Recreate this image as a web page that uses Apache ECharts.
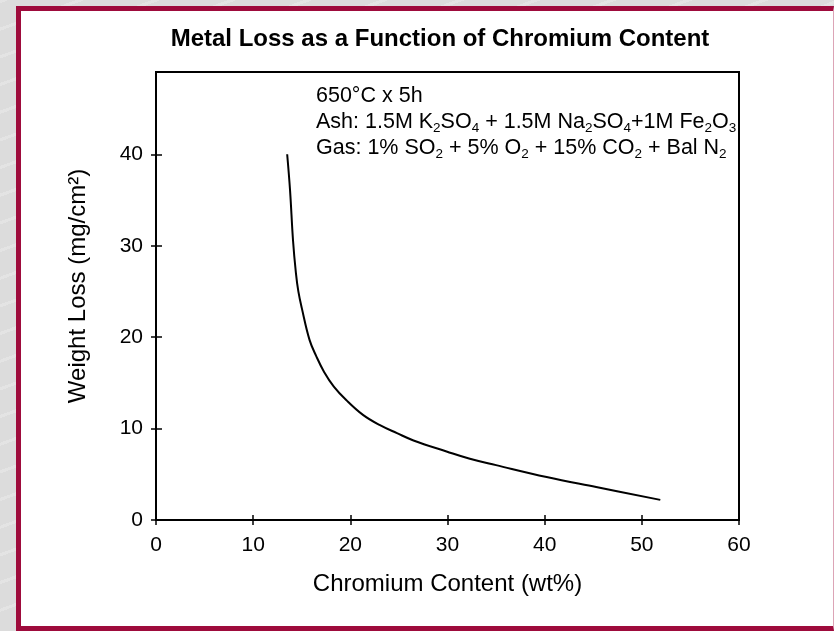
<!DOCTYPE html>
<html>
<head>
<meta charset="utf-8">
<script src="https://cdn.jsdelivr.net/npm/echarts@6/dist/echarts.min.js"></script>
<style>
  html, body { margin: 0; padding: 0; }
  body {
    width: 834px;
    height: 631px;
    overflow: hidden;
    position: relative;
    background:
      repeating-linear-gradient(160deg, rgba(255,255,255,0.22) 0 3px, rgba(255,255,255,0) 3px 26px),
      #dcdcdc;
  }
  #frame {
    position: absolute;
    left: 16px;
    top: 6px;
    width: 818px;
    height: 625px;
    box-sizing: border-box;
    background: #fff;
    border-left: 5px solid #9e0b3c;
    border-top: 5px solid #9e0b3c;
    border-bottom: 5px solid #9e0b3c;
    border-right: 1px solid #dca4b6;
  }
  #chart {
    position: absolute;
    left: 0;
    top: 0;
    width: 834px;
    height: 631px;
  }
</style>
</head>
<body>
<div id="frame"></div>
<div id="chart"></div>
<script>
  // chromium content (wt%) and weight loss (mg/cm2)
  const chromium = [13.5, 13.8, 14.1, 14.4, 14.65, 15.0, 15.8, 16.5, 17.3, 18.3, 19.6, 21.3, 23.0, 24.8, 26.5, 29.9, 32.3, 35.0, 40.2, 45.3, 51.9]
  const weightLoss = [40, 36, 30.6, 27.0, 25.0, 23.2, 19.7, 17.9, 16.2, 14.6, 13.1, 11.5, 10.4, 9.5, 8.7, 7.5, 6.7, 6.0, 4.7, 3.6, 2.2]
  const xTicks = [0, 10, 20, 30, 40, 50, 60]
  const yTicks = [0, 10, 20, 30, 40]

  const font = "'Liberation Sans', Arial, sans-serif"

  const myE = echarts.init(document.getElementById("chart"))

  const axisBase = {
    type: "value",
    splitLine: { show: false },
  }

  let option = {
    animation: false,
    title: {
      text: "Metal Loss as a Function of Chromium Content",
      left: 435,
      top: 22,
      textAlign: "center",
      textStyle: {
        fontFamily: font,
        fontSize: 24,
        fontWeight: "bold",
        color: "#000",
      },
    },
    grid: {
      left: 156,
      right: 95,
      top: 72,
      bottom: 111,
      show: true,
      borderColor: "#000",
      borderWidth: 2,
    },
    xAxis: [
      {
        ...axisBase,
        min: 0,
        max: 60,
        interval: 10,
        position: "bottom",
        name: "Chromium Content (wt%)",
        nameLocation: "middle",
        nameGap: 52,
        nameTextStyle: { fontFamily: font, fontSize: 24, color: "#000" },
        axisLine: { lineStyle: { color: "#000", width: 2 } },
        axisTick: { length: 5, customValues: xTicks, lineStyle: { color: "#000", width: 1.5 } },
        axisLabel: { customValues: xTicks, margin: 15, fontFamily: font, fontSize: 21, color: "#000" },
      },
      {
        // inner half of the cross ticks
        ...axisBase,
        min: 0,
        max: 60,
        interval: 10,
        position: "bottom",
        axisLine: { show: false },
        axisTick: { inside: true, length: 5, customValues: xTicks, lineStyle: { color: "#000", width: 1.5 } },
        axisLabel: { show: false },
      },
    ],
    yAxis: [
      {
        ...axisBase,
        min: 0,
        max: 49,
        interval: 10,
        position: "left",
        name: "Weight Loss (mg/cm²)",
        nameLocation: "middle",
        nameGap: 66,
        nameTextStyle: { fontFamily: font, fontSize: 24, color: "#000", padding: [0, 0, 0, 20] },
        axisLine: { lineStyle: { color: "#000", width: 2 } },
        axisTick: { length: 5, customValues: yTicks, lineStyle: { color: "#000", width: 1.5 } },
        axisLabel: { customValues: yTicks, margin: 13, fontFamily: font, fontSize: 21, color: "#000" },
      },
      {
        ...axisBase,
        min: 0,
        max: 49,
        interval: 10,
        position: "left",
        axisLine: { show: false },
        axisTick: { inside: true, length: 6, customValues: yTicks, lineStyle: { color: "#000", width: 1.5 } },
        axisLabel: { show: false },
      },
    ],
    graphic: [
      {
        type: "text",
        left: 316,
        top: 83,
        style: {
          text:
            "650°C x 5h\n" +
            "Ash: 1.5M K{s|2}SO{s|4} + 1.5M Na{s|2}SO{s|4}+1M Fe{s|2}O{s|3}\n" +
            "Gas: 1% SO{s|2} + 5% O{s|2} + 15% CO{s|2} + Bal N{s|2}",
          fontFamily: font,
          fontSize: 21.5,
          lineHeight: 26,
          fill: "#000",
          rich: {
            s: { fontFamily: font, fontSize: 13.5, verticalAlign: "bottom", fill: "#000" },
          },
        },
      },
    ],
    series: [
      {
        type: "line",
        data: chromium.map((c, i) => [c, weightLoss[i]]),
        smooth: 0.4,
        symbol: "none",
        lineStyle: { color: "#000", width: 2 },
      },
    ],
  }
  myE.setOption(option)
</script>
</body>
</html>
